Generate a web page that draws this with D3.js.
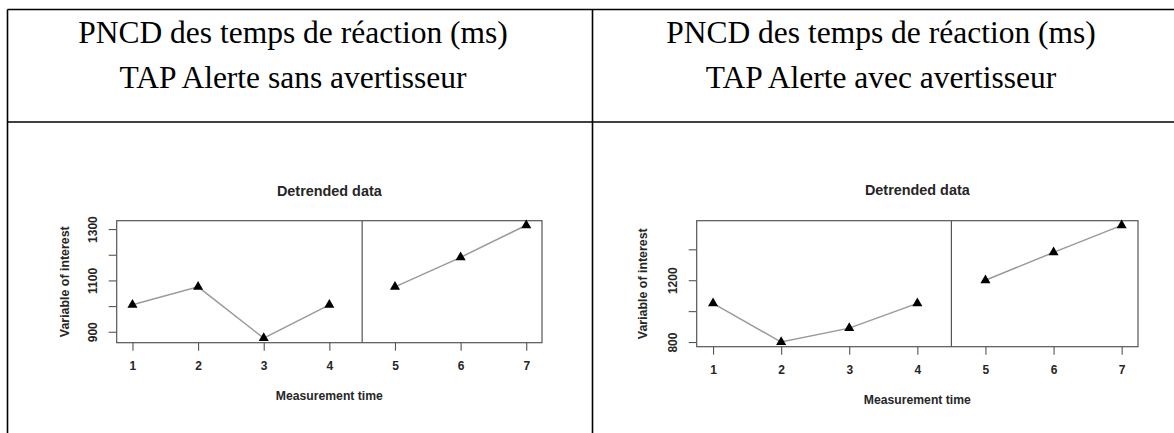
<!DOCTYPE html>
<html>
<head>
<meta charset="utf-8">
<script src="https://cdn.jsdelivr.net/npm/d3@7"></script>
<style>
  body { margin: 0; background: #fff; }
  svg { display: block; }
</style>
</head>
<body>
<svg id="page"></svg>
<script>
const width = 1174;
const height = 433;

// header cells of the table
const headerLines = [
  ['PNCD des temps de réaction (ms)', 'TAP Alerte sans avertisseur'],
  ['PNCD des temps de réaction (ms)', 'TAP Alerte avec avertisseur']
];

// measurement times (phase A = 1..4, phase B = 5..7)
const times = [1, 2, 3, 4, 5, 6, 7];
const phaseSplit = 4.5;

// detrended values
const sansValues = [1005, 1075, 875, 1005, 1075, 1190, 1315];
const avecValues = [1050, 800, 890, 1050, 1200, 1380, 1555];

const sansTicks = [900, 1000, 1100, 1200, 1300];
const sansTickLabels = [900, 1100, 1300];
const avecTicks = [800, 1000, 1200, 1400];
const avecTickLabels = [800, 1200];

const chartTitle = 'Detrended data';
const xTitle = 'Measurement time';
const yTitle = 'Variable of interest';

const svg = d3.select('#page')
  .attr('width', width)
  .attr('height', height);

// table grid
const gridColor = '#000';
const colSplit = 592.5;
const rowSplit = 122;
const tableLeft = 7.5;
const tableTop = 9.5;

svg.append('line').attr('x1', tableLeft).attr('x2', width).attr('y1', tableTop).attr('y2', tableTop)
  .attr('stroke', gridColor).attr('stroke-width', 1.6);
svg.append('line').attr('x1', tableLeft).attr('x2', width).attr('y1', rowSplit).attr('y2', rowSplit)
  .attr('stroke', gridColor).attr('stroke-width', 1.6);
svg.append('line').attr('x1', tableLeft).attr('x2', tableLeft).attr('y1', tableTop).attr('y2', height)
  .attr('stroke', gridColor).attr('stroke-width', 1.6);
svg.append('line').attr('x1', colSplit).attr('x2', colSplit).attr('y1', tableTop).attr('y2', height)
  .attr('stroke', gridColor).attr('stroke-width', 1.6);

const headerCenters = [293, 881];
headerLines.forEach((lines, i) => {
  lines.forEach((t, j) => {
    svg.append('text')
      .attr('x', headerCenters[i])
      .attr('y', 43 + j * 45)
      .attr('text-anchor', 'middle')
      .style('font-family', '"Liberation Serif", "Times New Roman", serif')
      .style('font-size', '31.5px')
      .style('fill', '#000')
      .text(t);
  });
});

const ink = '#262626';
const boxColor = '#555';
const sans = '"Liberation Sans", Arial, sans-serif';

function drawPlot(values, ticks, tickLabels, box, pos) {
  const g = svg.append('g');

  const x = d3.scaleLinear()
    .domain([1 - 0.24, 7 + 0.24])
    .range([box.left, box.right]);

  const lo = d3.min(values), hi = d3.max(values);
  const pad = (hi - lo) * 0.04;
  const y = d3.scaleLinear()
    .domain([lo - pad, hi + pad])
    .range([box.bottom, box.top]);

  // x axis
  const xAxis = g.append('g')
    .attr('transform', `translate(0, ${box.bottom})`)
    .call(d3.axisBottom(x).tickValues(times).tickFormat(d3.format('d')).tickSize(8).tickPadding(11));
  xAxis.select('.domain').remove();
  xAxis.selectAll('line').attr('stroke', boxColor).attr('stroke-width', 1.1);
  xAxis.selectAll('text')
    .style('font-family', sans)
    .style('font-size', '12px')
    .style('font-weight', 'bold')
    .style('fill', ink);

  // y axis, labels rotated as R does
  const yAxis = g.append('g')
    .attr('transform', `translate(${box.left}, 0)`)
    .call(d3.axisLeft(y).tickValues(ticks).tickSize(8)
      .tickFormat(d => tickLabels.includes(d) ? d : ''));
  yAxis.select('.domain').remove();
  yAxis.selectAll('line').attr('stroke', boxColor).attr('stroke-width', 1.1);
  yAxis.selectAll('text')
    .attr('x', 0)
    .attr('y', -23.5)
    .attr('dy', '0.35em')
    .attr('transform', 'rotate(-90)')
    .attr('text-anchor', 'middle')
    .style('font-family', sans)
    .style('font-size', '12px')
    .style('font-weight', 'bold')
    .style('fill', ink);

  // plot box and phase divider
  g.append('rect')
    .attr('x', box.left).attr('y', box.top)
    .attr('width', box.right - box.left).attr('height', box.bottom - box.top)
    .attr('fill', 'none').attr('stroke', boxColor).attr('stroke-width', 1.2);
  g.append('line')
    .attr('x1', x(phaseSplit)).attr('x2', x(phaseSplit))
    .attr('y1', box.top).attr('y2', box.bottom)
    .attr('stroke', boxColor).attr('stroke-width', 1.2);

  const pts = times.map((t, i) => ({ t, v: values[i] }));
  const phases = [pts.filter(p => p.t < phaseSplit), pts.filter(p => p.t > phaseSplit)];
  const line = d3.line().x(d => x(d.t)).y(d => y(d.v));

  g.selectAll('path.phase')
    .data(phases)
    .enter()
    .append('path')
    .attr('class', 'phase')
    .attr('d', line)
    .attr('fill', 'none')
    .attr('stroke', '#9a9a9a')
    .attr('stroke-width', 1.5);

  g.selectAll('path.pt')
    .data(pts)
    .enter()
    .append('path')
    .attr('class', 'pt')
    .attr('transform', d => `translate(${x(d.t)}, ${y(d.v)})`)
    .attr('d', d3.symbol().type(d3.symbolTriangle).size(44))
    .attr('fill', '#000');

  const cx = (box.left + box.right) / 2;
  const cy = (box.top + box.bottom) / 2;

  g.append('text')
    .attr('x', cx).attr('y', pos.titleY)
    .attr('text-anchor', 'middle')
    .attr('dy', '0.35em')
    .style('font-family', sans)
    .style('font-size', '14.4px')
    .style('font-weight', 'bold')
    .style('fill', ink)
    .text(chartTitle);

  g.append('text')
    .attr('x', cx).attr('y', pos.xTitleY)
    .attr('text-anchor', 'middle')
    .attr('dy', '0.35em')
    .style('font-family', sans)
    .style('font-size', '12.2px')
    .style('font-weight', 'bold')
    .style('fill', ink)
    .text(xTitle);

  g.append('text')
    .attr('transform', `translate(${pos.yTitleX}, ${cy}) rotate(-90)`)
    .attr('text-anchor', 'middle')
    .attr('dy', '0.35em')
    .style('font-family', sans)
    .style('font-size', '12.4px')
    .style('font-weight', 'bold')
    .style('fill', ink)
    .text(yTitle);
}

drawPlot(sansValues, sansTicks, sansTickLabels,
  { left: 116.7, right: 542, top: 220.7, bottom: 342.7 },
  { titleY: 191, xTitleY: 396, yTitleX: 65 });

drawPlot(avecValues, avecTicks, avecTickLabels,
  { left: 696.7, right: 1138, top: 220.7, bottom: 346.7 },
  { titleY: 190, xTitleY: 400, yTitleX: 643 });
</script>
</body>
</html>
